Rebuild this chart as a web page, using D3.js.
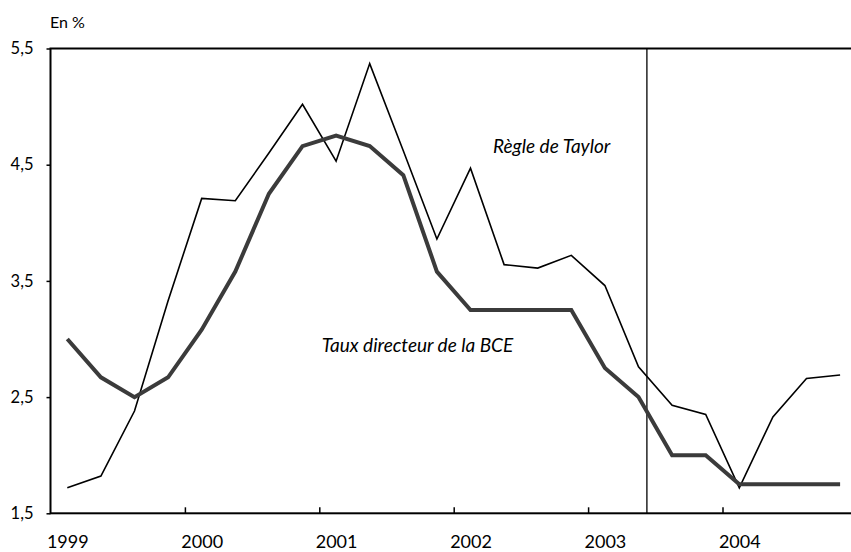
<!DOCTYPE html>
<html>
<head>
<meta charset="utf-8">
<script src="https://cdn.jsdelivr.net/npm/d3@7"></script>
<style>
  body { margin: 0; background: #fff; }
  svg text { font-family: Lato, "Open Sans", sans-serif; fill: #000; }
</style>
</head>
<body>
<div id="chart"></div>
<script>
// Quarterly data, 1999 Q1 to 2004 Q4
const years = ["1999", "2000", "2001", "2002", "2003", "2004"];
const bce = [3.0, 2.67, 2.5, 2.67, 3.08, 3.58, 4.25, 4.66, 4.75, 4.66, 4.41, 3.58,
             3.25, 3.25, 3.25, 3.25, 2.75, 2.5, 2.0, 2.0, 1.75, 1.75, 1.75, 1.75];
const taylor = [1.72, 1.82, 2.38, 3.33, 4.21, 4.19, 4.6, 5.02, 4.53, 5.37, 4.62, 3.86,
                4.47, 3.64, 3.61, 3.72, 3.46, 2.76, 2.43, 2.35, 1.72, 2.33, 2.66, 2.69];
const yTicks = [1.5, 2.5, 3.5, 4.5, 5.5];
const separator = 17.75; // in quarters from start of 1999

const width = 851;
const height = 552;
const margin = {left: 50.5, top: 48.5};
const band = 33.6;
const plotBottom = 513.3;

const svg = d3.select("#chart")
  .append("svg")
  .attr("width", width)
  .attr("height", height);

// scales: x in quarters, y in %
const x = d3.scaleLinear()
  .domain([0, bce.length])
  .range([margin.left, margin.left + bce.length * band]);

const y = d3.scaleLinear()
  .domain([1.5, 5.5])
  .range([plotBottom, margin.top]);

// frame (top line, right side falls outside the picture)
svg.append("rect")
  .attr("x", x(0))
  .attr("y", y(5.5))
  .attr("width", x(bce.length) - x(0))
  .attr("height", y(1.5) - y(5.5))
  .attr("fill", "none")
  .attr("stroke", "#000")
  .attr("stroke-width", 2);

// y axis
const yAxis = svg.append("g")
  .attr("transform", `translate(${x(0)},0)`)
  .call(d3.axisLeft(y)
    .tickValues(yTicks)
    .tickSize(4)
    .tickPadding(13)
    .tickFormat(d => d3.format(".1f")(d).replace(".", ",")));
yAxis.select(".domain").remove();
yAxis.selectAll("line").attr("stroke-width", 1.5);
yAxis.selectAll("text").attr("font-size", "16.5px").attr("font-family", null);

// x axis ticks at year boundaries
const xAxis = svg.append("g")
  .attr("transform", `translate(0,${y(1.5)})`)
  .call(d3.axisBottom(x)
    .tickValues(d3.range(1, years.length).map(k => k * 4))
    .tickSize(-6)
    .tickFormat(""));
xAxis.select(".domain").remove();
xAxis.selectAll("line").attr("stroke-width", 1.5);

// year labels under first quarter of each year
const xLabels = svg.append("g")
  .attr("transform", `translate(0,${y(1.5)})`)
  .call(d3.axisBottom(x)
    .tickValues(years.map((yr, k) => k * 4 + 0.5))
    .tickSize(0)
    .tickPadding(22)
    .tickFormat((d, k) => years[k]));
xLabels.select(".domain").remove();
xLabels.selectAll("text").attr("font-size", "18px").attr("font-family", null);

// separator line
svg.append("line")
  .attr("x1", x(separator))
  .attr("x2", x(separator))
  .attr("y1", y(5.5))
  .attr("y2", y(1.5))
  .attr("stroke", "#000")
  .attr("stroke-width", 1.3);

// lines
const line = d3.line()
  .x((d, i) => x(i + 0.5))
  .y(d => y(d));

svg.append("path")
  .datum(taylor)
  .attr("d", line)
  .attr("fill", "none")
  .attr("stroke", "#000")
  .attr("stroke-width", 1.6);

svg.append("path")
  .datum(bce)
  .attr("d", line)
  .attr("fill", "none")
  .attr("stroke", "#3b3b3b")
  .attr("stroke-width", 4);

// annotations
svg.append("text")
  .attr("x", x(13.17))
  .attr("y", y(4.6))
  .attr("font-size", "19px")
  .attr("font-style", "italic")
  .text("Règle de Taylor");

svg.append("text")
  .attr("x", x(13.77))
  .attr("y", y(2.89))
  .attr("text-anchor", "end")
  .attr("font-size", "19px")
  .attr("font-style", "italic")
  .text("Taux directeur de la BCE");

svg.append("text")
  .attr("x", 50)
  .attr("y", 28)
  .attr("font-size", "16px")
  .text("En %");
</script>
</body>
</html>
